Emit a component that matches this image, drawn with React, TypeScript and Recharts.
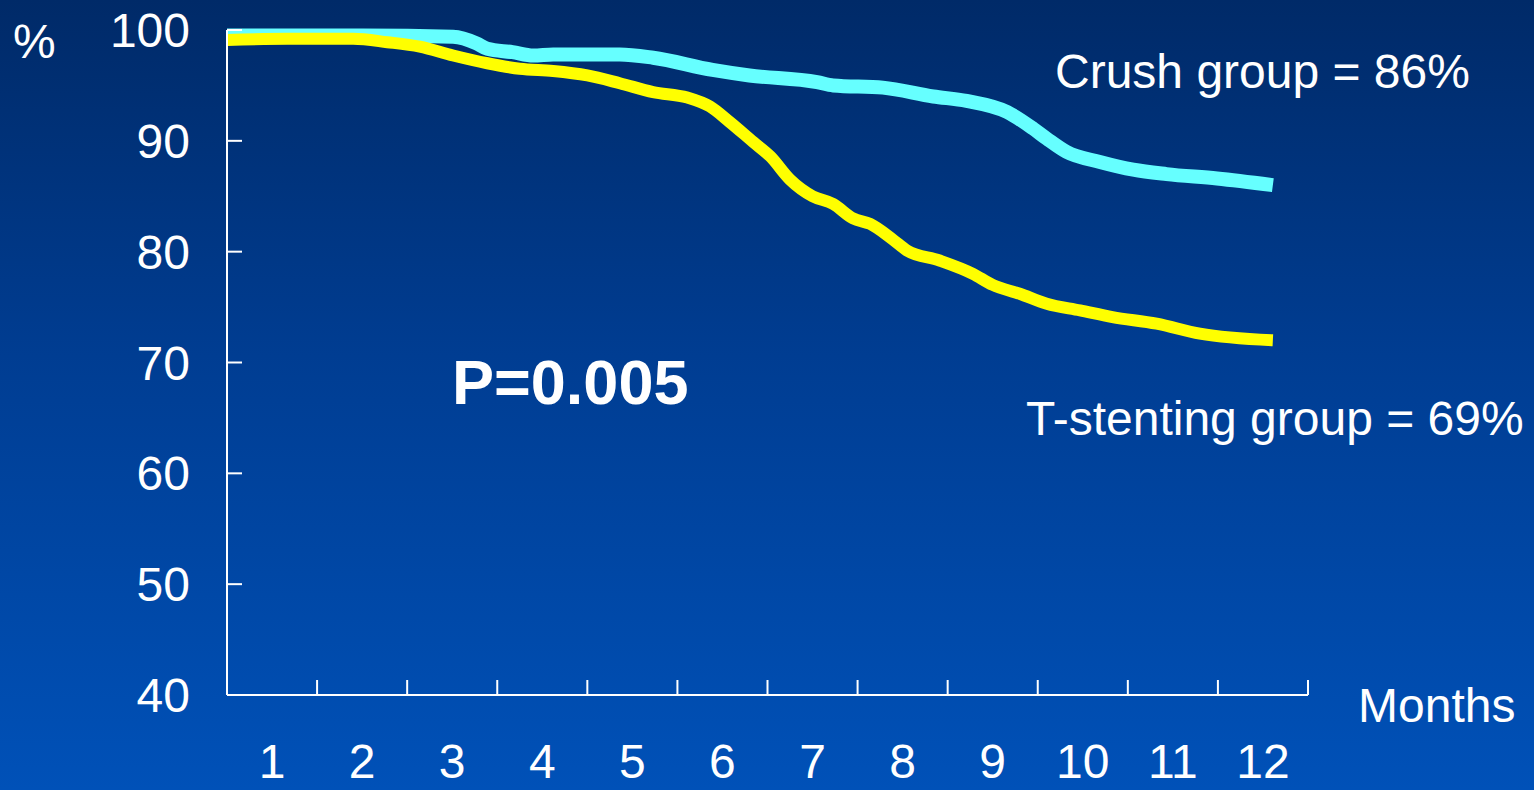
import { Line, LineChart, XAxis, YAxis } from 'recharts';

// Event-free survival, crush vs T-stenting (months since procedure)
const crushMonths = [0, 1.5, 2.51, 2.77, 2.89, 3.17, 3.4, 3.62, 4.36, 4.73, 5.39, 5.8, 6.55, 6.73, 7.28, 7.84, 8.21, 8.66, 8.95, 9.1, 9.32, 9.69, 10.06, 10.43, 10.99, 11.61];
const crushSurvival = [99.5, 99.5, 99.4, 98.8, 98.3, 98.0, 97.7, 97.8, 97.8, 97.5, 96.4, 95.9, 95.3, 95.0, 94.8, 94.0, 93.6, 92.6, 91.1, 90.2, 89.0, 88.1, 87.4, 87.0, 86.6, 86.0];

const tStentMonths = [0, 0.67, 1.4, 1.78, 2.14, 2.51, 2.89, 3.25, 3.62, 4.0, 4.36, 4.73, 5.11, 5.36, 5.58, 5.84, 6.03, 6.25, 6.5, 6.73, 6.95, 7.14, 7.39, 7.55, 7.91, 8.28, 8.5, 8.8, 9.1, 9.47, 9.83, 10.32, 10.8, 11.61];
const tStentSurvival = [99.1, 99.2, 99.2, 98.9, 98.5, 97.7, 97.0, 96.5, 96.3, 95.9, 95.2, 94.4, 93.9, 93.1, 91.7, 89.9, 88.6, 86.5, 85.0, 84.3, 83.0, 82.5, 81.1, 80.1, 79.2, 78.0, 77.0, 76.2, 75.3, 74.7, 74.1, 73.5, 72.6, 72.0];

const monthLabels = ['1', '2', '3', '4', '5', '6', '7', '8', '9', '10', '11', '12'];
const yTicks = [40, 50, 60, 70, 80, 90, 100];

const crushData = crushMonths.map((month, i) => ({ month, value: crushSurvival[i] }));
const tStentData = tStentMonths.map((month, i) => ({ month, value: tStentSurvival[i] }));

// integer positions carry the tick marks, half positions carry the month labels
const xTicks: number[] = [];
monthLabels.forEach((_, i) => xTicks.push(i, i + 0.5));
xTicks.push(monthLabels.length);

const FONT = '"Liberation Sans", Arial, sans-serif';
const W = 1534;
const H = 790;

function MonthTick(props: any) {
  const { x, y, payload } = props;
  const v = payload.value as number;
  if (Number.isInteger(v)) {
    return <line x1={x} x2={x} y1={y} y2={y - 15} stroke="#fff" strokeWidth={2} />;
  }
  return (
    <text x={x} y={y + 83} textAnchor="middle" fill="#fff" fontSize={48} fontFamily={FONT}>
      {monthLabels[Math.floor(v)]}
    </text>
  );
}

function PercentTick(props: any) {
  const { x, y, payload } = props;
  return (
    <g>
      <line x1={x} x2={x + 15} y1={y} y2={y} stroke="#fff" strokeWidth={2} />
      <text x={x - 37} y={y + 17} textAnchor="end" fill="#fff" fontSize={48} fontFamily={FONT}>
        {payload.value}
      </text>
    </g>
  );
}

export default function App() {
  return (
    <div
      style={{
        position: 'absolute',
        left: 0,
        top: 0,
        width: W,
        height: H,
        overflow: 'hidden',
        background: 'linear-gradient(to bottom, #002a68 0%, #003d92 45%, #0051b8 100%)',
      }}
    >
      <LineChart width={W} height={H} margin={{ top: 30, right: 226, bottom: 94, left: 226 }}>
        <XAxis
          dataKey="month"
          type="number"
          domain={[0, 12]}
          ticks={xTicks}
          interval={0}
          height={1}
          tickSize={0}
          tickMargin={0}
          tickLine={false}
          axisLine={{ stroke: '#fff', strokeWidth: 2 }}
          tick={<MonthTick />}
        />
        <YAxis
          type="number"
          domain={[40, 100]}
          ticks={yTicks}
          interval={0}
          width={1}
          tickSize={0}
          tickMargin={0}
          tickLine={false}
          axisLine={{ stroke: '#fff', strokeWidth: 2 }}
          tick={<PercentTick />}
        />
        <Line
          data={crushData}
          dataKey="value"
          type="monotone"
          stroke="#66ffff"
          strokeWidth={14}
          strokeLinejoin="round"
          dot={false}
          activeDot={false}
          isAnimationActive={false}
        />
        <Line
          data={tStentData}
          dataKey="value"
          type="monotone"
          stroke="#ffff00"
          strokeWidth={12}
          strokeLinejoin="round"
          dot={false}
          activeDot={false}
          isAnimationActive={false}
        />
      </LineChart>
      <svg
        width={W}
        height={H}
        style={{ position: 'absolute', left: 0, top: 0, pointerEvents: 'none' }}
        fontFamily={FONT}
        fill="#fff"
      >
        <text x={13} y={58} fontSize={48}>%</text>
        <text x={1358} y={722} fontSize={48}>Months</text>
        <text x={1055} y={88} fontSize={48}>Crush group = 86%</text>
        <text x={1026} y={435} fontSize={48}>T-stenting group = 69%</text>
        <text x={452} y={404} fontSize={63} fontWeight="bold">P=0.005</text>
      </svg>
    </div>
  );
}
